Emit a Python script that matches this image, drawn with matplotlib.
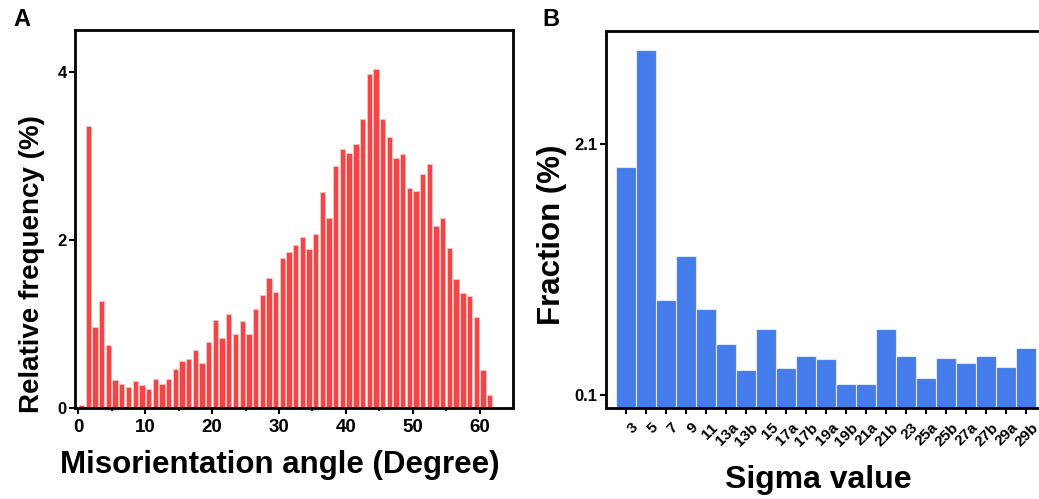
import matplotlib.pyplot as plt
import matplotlib.transforms as mtransforms
import numpy as np

plt.rcParams['font.family'] = ['Liberation Sans', 'DejaVu Sans']
plt.rcParams['font.weight'] = 'bold'

# misorientation histogram, 1 degree bins starting at 0
misor_freq = [0.03, 3.36, 0.97, 1.27, 0.75, 0.33, 0.28, 0.25, 0.32, 0.27,
              0.23, 0.35, 0.28, 0.34, 0.46, 0.56, 0.58, 0.69, 0.54, 0.79,
              1.05, 0.83, 1.12, 0.88, 1.04, 0.88, 1.18, 1.34, 1.55, 1.38,
              1.79, 1.86, 1.94, 2.03, 1.89, 2.07, 2.57, 2.26, 2.88, 3.08,
              3.04, 3.14, 3.44, 3.98, 4.03, 3.44, 3.23, 2.98, 3.02, 2.62,
              2.58, 2.79, 2.90, 2.17, 2.26, 1.90, 1.53, 1.37, 1.33, 1.08,
              0.45, 0.15]
bin_start = np.arange(len(misor_freq))

# CSL boundary fractions
sigma_labels = ['3', '5', '7', '9', '11', '13a', '13b', '15', '17a', '17b',
                '19a', '19b', '21a', '21b', '23', '25a', '25b', '27a', '27b',
                '29a', '29b']
sigma_frac = [1.92, 2.85, 0.86, 1.21, 0.79, 0.51, 0.30, 0.63, 0.32, 0.41,
              0.39, 0.19, 0.19, 0.63, 0.41, 0.24, 0.40, 0.36, 0.41, 0.33,
              0.48]

fig = plt.figure(figsize=(10.39, 4.99), dpi=100)
W, H = 1039, 499

def px_axes(left, top, right, bottom):
    return fig.add_axes([left / W, 1 - bottom / H, (right - left) / W, (bottom - top) / H])

# ---- A: misorientation angle distribution
ax1 = px_axes(75, 30, 513, 408)
ax1.bar(bin_start + 0.5, misor_freq, width=0.8, color='#F24646',
        edgecolor='#f7c4c4', linewidth=0.6)
ax1.set_xlim(-0.5, 65)
ax1.set_ylim(0, 4.5)
ax1.set_xticks(np.arange(0, 61, 10))
ax1.set_xticks(np.arange(5, 61, 10), minor=True)
ax1.set_yticks([0, 2, 4])
ax1.set_xlabel('Misorientation angle (Degree)', fontsize=22.5, fontweight='bold')
ax1.set_ylabel('Relative frequency (%)', fontsize=20, fontweight='bold')
ax1.xaxis.set_label_coords(0.468, -0.11)
ax1.yaxis.set_label_coords(-0.068, 0.38)

# ---- B: sigma value fractions
ax2 = px_axes(606, 31, 1045, 408)
xpos = np.arange(len(sigma_labels))
ax2.bar(xpos, sigma_frac, width=1.0, color='#447CEB', edgecolor='#dce6fb', linewidth=0.8)
ax2.set_xlim(-1, 20.95)
ax2.set_ylim(0, 3.0)
ax2.set_yticks([0.1, 2.1])
ax2.set_yticklabels(['0.1', '2.1'])
ax2.set_xticks(xpos)
ax2.set_xticklabels(sigma_labels, rotation=45, ha='right', rotation_mode='anchor')
ax2.set_xlabel('Sigma value', fontsize=23, fontweight='bold')
ax2.set_ylabel('Fraction (%)', fontsize=22.5, fontweight='bold')
ax2.xaxis.set_label_coords(0.483, -0.15)
ax2.yaxis.set_label_coords(-0.089, 0.46)

fig.text(13 / W, 1 - 8 / H, 'A', fontsize=17, fontweight='bold', va='top')
fig.text(542 / W, 1 - 8 / H, 'B', fontsize=17, fontweight='bold', va='top')

for ax in (ax1, ax2):
    for sp in ax.spines.values():
        sp.set_linewidth(2)
        sp.set_color('black')
    ax.tick_params(axis='both', which='major', length=4, width=1.5, labelsize=12, pad=2)
    ax.tick_params(axis='both', which='minor', length=2.5, width=1.2)
    for lbl in ax.get_xticklabels() + ax.get_yticklabels():
        lbl.set_fontweight('bold')
ax1.tick_params(axis='x', labelsize=13.5, pad=4)
ax2.tick_params(axis='x', labelsize=11, pad=2)

# nudge rotated sigma labels to the right of their ticks
shift = mtransforms.ScaledTranslation(5 / 100, -4 / 100, fig.dpi_scale_trans)
for lbl in ax2.get_xticklabels():
    lbl.set_transform(lbl.get_transform() + shift)

fig.savefig('out.png', dpi=100)
